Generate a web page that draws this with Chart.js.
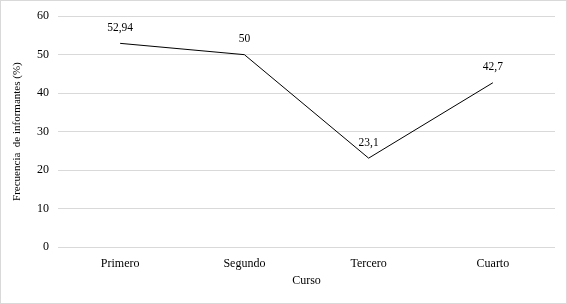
<!DOCTYPE html>
<html><head><meta charset="utf-8">
<script src="https://cdn.jsdelivr.net/npm/chart.js@4"></script>
<style>html,body{margin:0;padding:0;background:#fff}#wrap{width:567px;height:304px;position:relative}</style>
</head><body><div id="wrap"><canvas id="c" width="567" height="304"></canvas></div>
<script>
const categories = ['Primero', 'Segundo', 'Tercero', 'Cuarto'];
const values = [52.94, 50, 23.1, 42.7];
const yTicks = [0, 10, 20, 30, 40, 50, 60];
const xTitle = 'Curso';
const yTitle = 'Frecuencia  de informantes (%)';

const FONT = "'Liberation Serif', 'DejaVu Serif', serif";

const borderPlugin = {
  id: 'border',
  afterDraw(chart) {
    const ctx = chart.ctx;
    ctx.save();
    ctx.strokeStyle = '#d9d9d9';
    ctx.lineWidth = 1;
    ctx.strokeRect(0.5, 0.5, chart.width - 1, chart.height - 1);
    ctx.restore();
  }
};
const labelPlugin = {
  id: 'dlabels',
  afterDatasetsDraw(chart) {
    const ctx = chart.ctx;
    const meta = chart.getDatasetMeta(0);
    ctx.save();
    ctx.font = '11.5px ' + FONT;
    ctx.fillStyle = '#000';
    ctx.textAlign = 'center';
    ctx.textBaseline = 'middle';
    meta.data.forEach((pt, i) => {
      ctx.fillText(String(values[i]).replace('.', ','), pt.x, pt.y - 15.5);
    });
    ctx.restore();
  }
};

new Chart(document.getElementById('c'), {
  type: 'line',
  data: {
    labels: categories,
    datasets: [{
      data: values,
      borderColor: '#000',
      borderWidth: 1,
      pointRadius: 0,
      tension: 0,
      fill: false
    }]
  },
  options: {
    responsive: false,
    animation: false,
    devicePixelRatio: 1,
    layout: { padding: { top: 14, right: 12, bottom: 16, left: 0 } },
    plugins: { legend: { display: false }, tooltip: { enabled: false } },
    scales: {
      x: {
        offset: true,
        grid: { display: false },
        border: { display: false },
        ticks: { color: '#000', font: { family: FONT, size: 12 }, padding: 2 },
        title: { display: true, text: xTitle, color: '#000', font: { family: FONT, size: 12 }, padding: { top: 2, bottom: 0 } },
        afterFit(s) { s.height = 41; }
      },
      y: {
        min: 0, max: 60,
        afterBuildTicks(s) { s.ticks = yTicks.map(v => ({ value: v })); },
        grid: { color: '#d9d9d9', lineWidth: 1, drawTicks: false },
        border: { display: false },
        ticks: { color: '#000', font: { family: FONT, size: 12 }, padding: 9 },
        title: { display: true, text: yTitle, color: '#000', font: { family: FONT, size: 11 }, padding: { top: 11, bottom: 0 } },
        afterFit(s) { s.width = 58; }
      }
    }
  },
  plugins: [borderPlugin, labelPlugin]
});
</script></body></html>
